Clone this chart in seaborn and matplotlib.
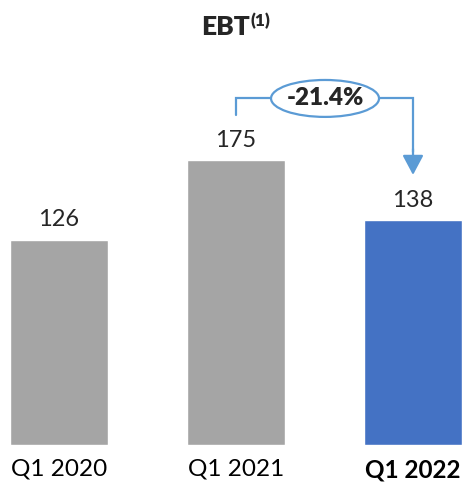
import matplotlib
matplotlib.use("Agg")
import matplotlib.pyplot as plt
from matplotlib.patches import Ellipse
import seaborn as sns

# data
quarters = ["Q1 2020", "Q1 2021", "Q1 2022"]
ebt = [126, 175, 138]
bar_colors = ["#A5A5A5", "#A5A5A5", "#4472C4"]
change_label = "-21.4%"

sns.set_style("white")
plt.rcParams["font.family"] = ["Lato", "DejaVu Sans"]

fig = plt.figure(figsize=(4.67, 4.88), dpi=100)
ax = fig.add_axes([0, 43 / 488, 1, 445 / 488])

sns.barplot(x=quarters, y=ebt, hue=quarters, palette=bar_colors,
            width=0.554, legend=False, saturation=1, ax=ax)

ax.set_xlim(-0.333, 2.305)
ax.set_ylim(0, 273.5)
sns.despine(ax=ax, left=True, bottom=True)
ax.set_yticks([])
ax.set_xlabel("")
ax.set_ylabel("")
ax.tick_params(axis="x", length=0, pad=10, labelsize=17.5)
for lbl in ax.get_xticklabels():
    lbl.set_color("black")
ax.get_xticklabels()[-1].set_fontweight("bold")

# value labels
for i, v in enumerate(ebt):
    ax.text(i, v + 6, str(v), ha="center", va="bottom", fontsize=17)

# bracket with change
line_c = "#5B9BD5"
y_top = max(ebt) + 38
ax.plot([1, 1, 2, 2], [ebt[1] + 28, y_top, y_top, ebt[2] + 42],
        color=line_c, lw=1.6, solid_joinstyle="miter", zorder=3)
ax.annotate("", xy=(2, ebt[2] + 28), xytext=(2, ebt[2] + 44),
            arrowprops=dict(arrowstyle="-|>,head_length=0.6,head_width=0.32",
                            color=line_c, lw=1.6, mutation_scale=20,
                            shrinkA=0, shrinkB=0), zorder=3)
ell = Ellipse((1.503, y_top), 0.61, 22.7, facecolor="white",
              edgecolor=line_c, lw=1.6, zorder=4)
ax.add_patch(ell)
ax.text(1.503, y_top, change_label, ha="center", va="center",
        fontsize=17.5, fontweight="heavy", zorder=5)

# title
fig.text(250 / 467, 1 - 35 / 488, "EBT", ha="right", va="baseline",
         fontsize=19, fontweight="heavy")
fig.text(251 / 467, 1 - 26 / 488, "(1)", ha="left", va="baseline",
         fontsize=12.5, fontweight="heavy")

fig.savefig("out.png", dpi=100)
